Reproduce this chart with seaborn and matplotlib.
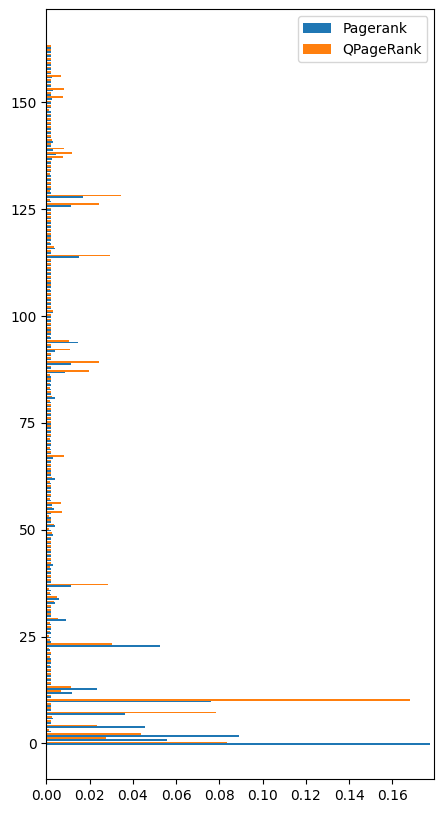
import pandas as pd
import matplotlib
matplotlib.use("Agg")
import matplotlib.pyplot as plt
import seaborn as sns

# node index 0..163
nodes = list(range(164))

pagerank = [
    0.1774, 0.0558, 0.0891, 0.0022, 0.0456, 0.0022, 0.0031, 0.0364, 0.0022, 0.0022,
    0.0762, 0.0022, 0.0119, 0.0234, 0.0022, 0.0022, 0.0022, 0.0022, 0.0022, 0.0022,
    0.0022, 0.0022, 0.0017, 0.0526, 0.0022, 0.0022, 0.0022, 0.0022, 0.0022, 0.0091,
    0.0022, 0.0022, 0.0022, 0.0040, 0.0059, 0.0022, 0.0022, 0.0114, 0.0022, 0.0022,
    0.0022, 0.0022, 0.0031, 0.0022, 0.0022, 0.0022, 0.0022, 0.0022, 0.0022, 0.0031,
    0.0022, 0.0040, 0.0022, 0.0022, 0.0022, 0.0036, 0.0027, 0.0022, 0.0022, 0.0022,
    0.0022, 0.0022, 0.0040, 0.0022, 0.0022, 0.0022, 0.0022, 0.0031, 0.0022, 0.0022,
    0.0022, 0.0022, 0.0022, 0.0022, 0.0022, 0.0022, 0.0022, 0.0022, 0.0022, 0.0022,
    0.0022, 0.0040, 0.0022, 0.0022, 0.0022, 0.0022, 0.0022, 0.0086, 0.0022, 0.0114,
    0.0022, 0.0022, 0.0040, 0.0022, 0.0147, 0.0022, 0.0022, 0.0022, 0.0022, 0.0022,
    0.0022, 0.0031, 0.0022, 0.0022, 0.0022, 0.0022, 0.0022, 0.0022, 0.0022, 0.0022,
    0.0022, 0.0022, 0.0022, 0.0022, 0.0151, 0.0022, 0.0040, 0.0022, 0.0022, 0.0022,
    0.0022, 0.0022, 0.0022, 0.0022, 0.0022, 0.0022, 0.0114, 0.0022, 0.0170, 0.0022,
    0.0022, 0.0022, 0.0022, 0.0022, 0.0022, 0.0022, 0.0022, 0.0027, 0.0045, 0.0031,
    0.0022, 0.0031, 0.0022, 0.0022, 0.0022, 0.0022, 0.0022, 0.0022, 0.0022, 0.0022,
    0.0022, 0.0027, 0.0022, 0.0031, 0.0022, 0.0022, 0.0027, 0.0022, 0.0022, 0.0022,
    0.0022, 0.0022, 0.0022, 0.0022,
]

qpagerank = [
    0.0836, 0.0276, 0.0438, 0.0012, 0.0234, 0.0022, 0.0027, 0.0785, 0.0022, 0.0022,
    0.1680, 0.0022, 0.0068, 0.0114, 0.0022, 0.0022, 0.0022, 0.0022, 0.0017, 0.0022,
    0.0017, 0.0022, 0.0012, 0.0304, 0.0017, 0.0012, 0.0017, 0.0022, 0.0017, 0.0054,
    0.0022, 0.0022, 0.0022, 0.0036, 0.0050, 0.0017, 0.0012, 0.0285, 0.0022, 0.0022,
    0.0022, 0.0017, 0.0022, 0.0022, 0.0022, 0.0022, 0.0022, 0.0022, 0.0022, 0.0027,
    0.0012, 0.0036, 0.0022, 0.0012, 0.0073, 0.0027, 0.0068, 0.0017, 0.0022, 0.0022,
    0.0022, 0.0017, 0.0027, 0.0022, 0.0022, 0.0022, 0.0022, 0.0082, 0.0022, 0.0017,
    0.0022, 0.0017, 0.0022, 0.0022, 0.0022, 0.0022, 0.0022, 0.0022, 0.0022, 0.0022,
    0.0017, 0.0027, 0.0022, 0.0017, 0.0017, 0.0022, 0.0017, 0.0197, 0.0022, 0.0244,
    0.0022, 0.0022, 0.0110, 0.0022, 0.0106, 0.0017, 0.0022, 0.0022, 0.0022, 0.0022,
    0.0022, 0.0031, 0.0022, 0.0022, 0.0022, 0.0022, 0.0017, 0.0022, 0.0022, 0.0022,
    0.0022, 0.0022, 0.0022, 0.0022, 0.0295, 0.0022, 0.0036, 0.0017, 0.0022, 0.0022,
    0.0022, 0.0022, 0.0022, 0.0022, 0.0022, 0.0022, 0.0244, 0.0017, 0.0345, 0.0017,
    0.0022, 0.0022, 0.0022, 0.0017, 0.0022, 0.0022, 0.0022, 0.0077, 0.0119, 0.0082,
    0.0022, 0.0027, 0.0022, 0.0022, 0.0022, 0.0022, 0.0022, 0.0022, 0.0012, 0.0022,
    0.0022, 0.0077, 0.0022, 0.0082, 0.0022, 0.0022, 0.0068, 0.0022, 0.0022, 0.0022,
    0.0022, 0.0022, 0.0022, 0.0022,
]

series_names = ["Pagerank", "QPageRank"]
colors = ["#1f77b4", "#ff7f0e"]

# long format for seaborn
df = pd.DataFrame({
    "node": nodes * 2,
    "score": pagerank + qpagerank,
    "method": [series_names[0]] * len(nodes) + [series_names[1]] * len(nodes),
})

fig, ax = plt.subplots(figsize=(4.43, 8.13), dpi=100)
fig.subplots_adjust(left=0.1045, right=0.9804, top=0.9886, bottom=0.0418)

sns.barplot(data=df, x="score", y="node", hue="method", orient="h",
            native_scale=True, palette=colors, saturation=1,
            errorbar=None, linewidth=0, ax=ax)

ax.set_xlim(0, 0.1794)
ax.set_ylim(-8.35, 171.8)
ax.set_xlabel("")
ax.set_ylabel("")
sns.move_legend(ax, "upper right", title=None)

plt.savefig("out.png", dpi=100)
